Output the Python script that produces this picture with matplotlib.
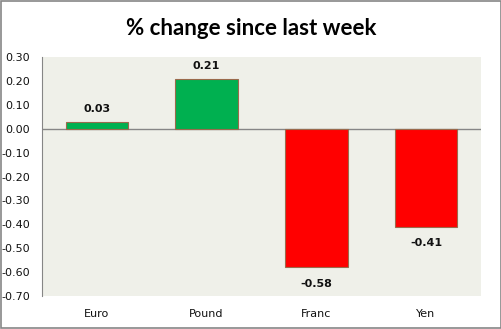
import matplotlib.pyplot as plt
from matplotlib.patches import Rectangle

categorias = ['Euro', 'Pound', 'Franc', 'Yen']
valores = [0.03, 0.21, -0.58, -0.41]
yticks = [0.30, 0.20, 0.10, 0.00, -0.10, -0.20, -0.30, -0.40, -0.50, -0.60, -0.70]

plt.rcParams['axes.unicode_minus'] = False

fig = plt.figure(figsize=(5.02, 3.29), dpi=100)
fig.patch.set_facecolor('white')
fig.patches.append(Rectangle((0.002, 0.003), 0.996, 0.994, transform=fig.transFigure,
                             fill=False, edgecolor='#868686', linewidth=1.2))

ax = fig.add_axes([0.0837, 0.1003, 0.8743, 0.7264])
ax.set_facecolor('#eff0e9')

cores = ['#00b050' if v >= 0 else '#ff0000' for v in valores]
x = range(len(categorias))
ax.bar(x, valores, width=0.57, color=cores, edgecolor='#9a6a4c', linewidth=0.8, zorder=3)

for i, v in enumerate(valores):
    dy = 9 if v >= 0 else -12
    ax.annotate('%.2f' % v, (i, v), xytext=(0, dy), textcoords='offset points',
                ha='center', va='center', fontsize=8, fontweight='bold', color='#111111')

ax.set_xlim(-0.5, len(categorias) - 0.5)
ax.set_ylim(-0.70, 0.30)
ax.set_yticks(yticks)
ax.set_yticklabels(['%.2f' % t for t in yticks])
ax.set_xticks(list(x))
ax.set_xticklabels(categorias)
ax.tick_params(axis='both', length=0, labelsize=8, colors='#111111')
ax.tick_params(axis='y', pad=8.5)
ax.tick_params(axis='x', pad=9)

for lado in ['top', 'right', 'bottom']:
    ax.spines[lado].set_visible(False)
ax.spines['left'].set_color('#868686')
ax.axhline(0, color='#868686', linewidth=1.0, zorder=2)

fig.text(0.5, 0.912, '% change since last week', ha='center', va='center',
         fontsize=16, fontweight='bold', family='Lato')

plt.savefig('out.png')
